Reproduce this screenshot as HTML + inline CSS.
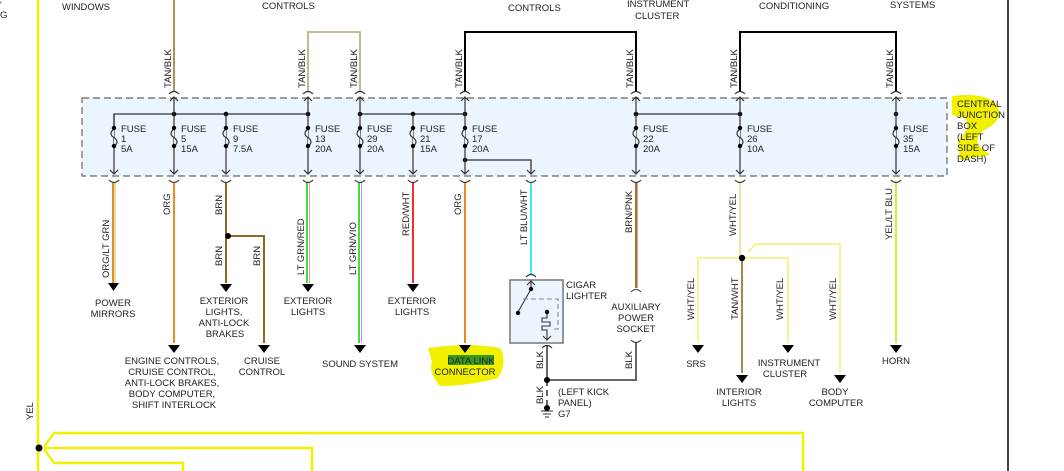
<!DOCTYPE html>
<html><head><meta charset="utf-8"><style>
html,body{margin:0;padding:0;background:#fff;}
svg{display:block;}
text{font-family:"Liberation Sans",Arial,sans-serif;font-size:9.5px;fill:#222;}
</style></head><body>
<svg width="1064" height="471" viewBox="0 0 1064 471" xmlns="http://www.w3.org/2000/svg">
<!-- highlights -->
<path d="M470,120 Q490,116 508,119 L510,145 Q495,150 490,158 L450,162 Q450,148 470,135 Z" fill="#f0f000"/>
<path d="M952,96 Q985,92 996,104 Q1005,118 988,128 Q975,134 978,145 L990,155 L960,160 L958,140 Q972,128 965,118 L952,115 Z" fill="#f0f000"/>
<path d="M428,348 Q470,342 500,348 Q508,362 498,378 Q470,386 440,386 Q428,372 432,362 Z" fill="#f0f000"/>
<rect x="448" y="355" width="46" height="10" fill="#3a9a20"/>

<!-- junction box -->
<rect x="82" y="98" width="865" height="78" fill="#eaf5fd" stroke="#666" stroke-width="1.2" stroke-dasharray="7,4"/>

<!-- yellow left wiring -->
<g stroke="#f5f000" stroke-width="2.5" fill="none">
<line x1="38" y1="0" x2="38" y2="471"/>
<path d="M44,447 L54,433 L803,433 L803,471"/>
<path d="M44,448 L312,448 L312,471"/>
<path d="M44,449 L54,463 L183,463 L183,471"/>
</g>
<circle cx="39" cy="448" r="3.5" fill="#000"/>
<text transform="translate(33,420) rotate(-90)">YEL</text>
<line x1="1008" y1="0" x2="1008" y2="471" stroke="#000" stroke-width="1.5"/>

<!-- top wires -->
<g fill="none" stroke-width="2">
<line x1="174" y1="0" x2="174" y2="92" stroke="#b09060"/>
<path d="M308,92 L308,32 L360,32 L360,92" stroke="#c8b890"/>
<path d="M465,92 L465,32 L636,32 L636,92" stroke="#000"/>
<path d="M740,92 L740,32 L896,32 L896,92" stroke="#000"/>
</g>
<g font-size="9">
<text transform="translate(171,88) rotate(-90)">TAN/BLK</text>
<text transform="translate(305,88) rotate(-90)">TAN/BLK</text>
<text transform="translate(357,88) rotate(-90)">TAN/BLK</text>
<text transform="translate(462,88) rotate(-90)">TAN/BLK</text>
<text transform="translate(633,88) rotate(-90)">TAN/BLK</text>
<text transform="translate(737,88) rotate(-90)">TAN/BLK</text>
<text transform="translate(893,88) rotate(-90)">TAN/BLK</text>
</g>
<text x="62" y="10">WINDOWS</text>
<text x="262" y="9">CONTROLS</text>
<text x="508" y="11">CONTROLS</text>
<text x="627" y="7">INSTRUMENT</text>
<text x="635" y="19">CLUSTER</text>
<text x="759" y="9">CONDITIONING</text>
<text x="890" y="8">SYSTEMS</text>
<text x="0" y="8" font-size="8">'</text>
<text x="0" y="18" font-size="8">G</text>

<!-- bus lines -->
<g stroke="#333" stroke-width="1.3" fill="none">
<path d="M114,128 L114,114 L308,114"/>
<path d="M360,114 L465,114"/>
<path d="M636,114 L740,114"/>
<path d="M465,160 L531,160 L531,174"/>
</g>
<g fill="#000">
<circle cx="174" cy="114" r="2.3"/><circle cx="226" cy="114" r="2.3"/><circle cx="308" cy="114" r="2.3"/>
<circle cx="360" cy="114" r="2.3"/><circle cx="413" cy="114" r="2.3"/><circle cx="465" cy="114" r="2.3"/>
<circle cx="636" cy="114" r="2.3"/><circle cx="740" cy="114" r="2.3"/><circle cx="896" cy="114" r="2.3"/>
<circle cx="465" cy="160" r="2.3"/>
</g>

<!-- fuses -->
<g stroke="#333" stroke-width="1.2" fill="none">
<!-- verticals -->
<path d="M114,114V174 M174,97V174 M226,114V174 M308,97V174 M360,97V174 M413,114V174 M465,97V174 M636,97V174 M740,97V174 M896,97V174"/>
<!-- top chevrons & arcs -->
<path d="M170,101l4,-4l4,4 M169,94q5,-5 10,0 M304,101l4,-4l4,4 M303,94q5,-5 10,0 M356,101l4,-4l4,4 M355,94q5,-5 10,0 M461,101l4,-4l4,4 M460,94q5,-5 10,0 M632,101l4,-4l4,4 M631,94q5,-5 10,0 M736,101l4,-4l4,4 M735,94q5,-5 10,0 M892,101l4,-4l4,4 M891,94q5,-5 10,0"/>
<!-- bottom chevrons & arcs -->
<path d="M110,170l4,4l4,-4 M109,180q5,5 10,0 M170,170l4,4l4,-4 M169,180q5,5 10,0 M222,170l4,4l4,-4 M221,180q5,5 10,0 M304,170l4,4l4,-4 M303,180q5,5 10,0 M356,170l4,4l4,-4 M355,180q5,5 10,0 M409,170l4,4l4,-4 M408,180q5,5 10,0 M461,170l4,4l4,-4 M460,180q5,5 10,0 M527,170l4,4l4,-4 M526,180q5,5 10,0 M632,170l4,4l4,-4 M631,180q5,5 10,0 M736,170l4,4l4,-4 M735,180q5,5 10,0 M892,170l4,4l4,-4 M891,180q5,5 10,0"/>
</g>
<g id="fz" stroke="#333" stroke-width="1.2" fill="#eaf5fd">
<path d="M114,129c-4,3 -4,6 0,8.5c4,3 4,6 0,8.5 M174,129c-4,3 -4,6 0,8.5c4,3 4,6 0,8.5 M226,129c-4,3 -4,6 0,8.5c4,3 4,6 0,8.5 M308,129c-4,3 -4,6 0,8.5c4,3 4,6 0,8.5 M360,129c-4,3 -4,6 0,8.5c4,3 4,6 0,8.5 M413,129c-4,3 -4,6 0,8.5c4,3 4,6 0,8.5 M465,129c-4,3 -4,6 0,8.5c4,3 4,6 0,8.5 M636,129c-4,3 -4,6 0,8.5c4,3 4,6 0,8.5 M740,129c-4,3 -4,6 0,8.5c4,3 4,6 0,8.5 M896,129c-4,3 -4,6 0,8.5c4,3 4,6 0,8.5"/>
</g>
<g fill="#000">
<circle cx="114" cy="128" r="2.2"/><circle cx="114" cy="146" r="2.2"/>
<circle cx="174" cy="128" r="2.2"/><circle cx="174" cy="146" r="2.2"/>
<circle cx="226" cy="128" r="2.2"/><circle cx="226" cy="146" r="2.2"/>
<circle cx="308" cy="128" r="2.2"/><circle cx="308" cy="146" r="2.2"/>
<circle cx="360" cy="128" r="2.2"/><circle cx="360" cy="146" r="2.2"/>
<circle cx="413" cy="128" r="2.2"/><circle cx="413" cy="146" r="2.2"/>
<circle cx="465" cy="128" r="2.2"/><circle cx="465" cy="146" r="2.2"/>
<circle cx="636" cy="128" r="2.2"/><circle cx="636" cy="146" r="2.2"/>
<circle cx="740" cy="128" r="2.2"/><circle cx="740" cy="146" r="2.2"/>
<circle cx="896" cy="128" r="2.2"/><circle cx="896" cy="146" r="2.2"/>
</g>
<g font-size="9.5">
<text x="121" y="132">FUSE</text><text x="121" y="142">1</text><text x="121" y="152">5A</text>
<text x="181" y="132">FUSE</text><text x="181" y="142">5</text><text x="181" y="152">15A</text>
<text x="233" y="132">FUSE</text><text x="233" y="142">9</text><text x="233" y="152">7.5A</text>
<text x="315" y="132">FUSE</text><text x="315" y="142">13</text><text x="315" y="152">20A</text>
<text x="367" y="132">FUSE</text><text x="367" y="142">29</text><text x="367" y="152">20A</text>
<text x="420" y="132">FUSE</text><text x="420" y="142">21</text><text x="420" y="152">15A</text>
<text x="472" y="132">FUSE</text><text x="472" y="142">17</text><text x="472" y="152">20A</text>
<text x="643" y="132">FUSE</text><text x="643" y="142">22</text><text x="643" y="152">20A</text>
<text x="747" y="132">FUSE</text><text x="747" y="142">26</text><text x="747" y="152">10A</text>
<text x="903" y="132">FUSE</text><text x="903" y="142">35</text><text x="903" y="152">15A</text>
<text x="957" y="107">CENTRAL</text><text x="957" y="118">JUNCTION</text><text x="957" y="129">BOX</text>
<text x="957" y="140">(LEFT</text><text x="957" y="151">SIDE OF</text><text x="957" y="162">DASH)</text>
</g>

<!-- lower wires -->
<g fill="none" stroke-width="2">
<line x1="113" y1="183" x2="113" y2="283" stroke="#f08a20"/><line x1="115" y1="183" x2="115" y2="283" stroke="#9ad060" stroke-width="1"/>
<line x1="174" y1="183" x2="174" y2="343" stroke="#f08a20"/>
<line x1="226" y1="183" x2="226" y2="283" stroke="#8a6a20"/>
<path d="M228,236 L264,236 L264,343" stroke="#8a6a20"/>
<line x1="307" y1="183" x2="307" y2="283" stroke="#40e040"/><line x1="309.5" y1="183" x2="309.5" y2="283" stroke="#f0a0a0" stroke-width="1"/>
<line x1="359" y1="183" x2="359" y2="343" stroke="#40e040"/><line x1="361.5" y1="183" x2="361.5" y2="343" stroke="#c090e0" stroke-width="1"/>
<line x1="413" y1="183" x2="413" y2="283" stroke="#f03030"/>
<line x1="465" y1="183" x2="465" y2="343" stroke="#f08a20"/>
<line x1="531" y1="183" x2="531" y2="275" stroke="#40e8f0"/>
<line x1="636" y1="183" x2="636" y2="288" stroke="#a07040"/><line x1="637.5" y1="183" x2="637.5" y2="288" stroke="#f0a080" stroke-width="1"/>
<line x1="740" y1="183" x2="740" y2="258" stroke="#e6e6a0"/>
<path d="M742,258 L698,258 L698,343 M742,258 L788,258 L788,343 M748,252 L756,244 L840,244 L840,373" stroke="#f0f070" stroke-width="1.5"/>
<line x1="742" y1="258" x2="742" y2="373" stroke="#a08850"/>
<line x1="896" y1="183" x2="896" y2="343" stroke="#c8f040"/>
<path d="M547,345 L547,380 L636,380 L636,342" stroke="#666" stroke-width="2"/>
<path d="M547,380 L547,410" stroke="#666" stroke-width="2" stroke-dasharray="6,4"/>
</g>
<circle cx="228" cy="236" r="3" fill="#000"/>
<circle cx="742" cy="258" r="3.2" fill="#000"/>
<circle cx="547" cy="380" r="3" fill="#000"/>
<g fill="#000">
<polygon points="108,283 119,283 113.5,291"/>
<polygon points="168,345 180,345 174,353"/>
<polygon points="220,284 232,284 226,292"/>
<polygon points="258,345 270,345 264,353"/>
<polygon points="302,284 314,284 308,292"/>
<polygon points="354,345 366,345 360,353"/>
<polygon points="407,284 419,284 413,292"/>
<polygon points="459,345 471,345 465,353"/>
<polygon points="692,345 704,345 698,353"/>
<polygon points="736,375 748,375 742,383"/>
<polygon points="782,345 794,345 788,353"/>
<polygon points="834,375 846,375 840,383"/>
<polygon points="890,345 902,345 896,353"/>
</g>
<path d="M631,292q5,-5 10,0 M631,340q5,5 10,0" stroke="#333" fill="none"/>

<!-- cigar lighter -->
<rect x="510" y="280" width="53" height="63" fill="#eaf5fd" stroke="#777" stroke-width="1.5"/>
<g stroke="#333" stroke-width="1.1" fill="none">
<path d="M526,277q5,-5 10,0 M527,285l4,-4l4,4 M531,281V289 M531,289 L518,312"/>
<path d="M523,299 L558,299 L558,329 L552,329" stroke="#888" stroke-dasharray="5,3"/>
<path d="M547,312 V318 h-5 v4 h8 v4 h-8 v4 h5 v10 M543,336l4,4l4,-4 M542,348q5,-5 10,0"/>
</g>
<circle cx="531" cy="289" r="2.2" fill="#000"/><circle cx="518" cy="313" r="2.2" fill="#000"/><circle cx="547" cy="312" r="2.2" fill="#000"/>
<path d="M541,411h12 M543,414h8 M545,417h4" stroke="#333"/>
<circle cx="547" cy="408" r="3" fill="#000"/>

<!-- lower wire labels -->
<g font-size="9">
<text transform="translate(109,278) rotate(-90)">ORG/LT GRN</text>
<text transform="translate(170,215) rotate(-90)">ORG</text>
<text transform="translate(222,215) rotate(-90)">BRN</text>
<text transform="translate(222,266) rotate(-90)">BRN</text>
<text transform="translate(260,266) rotate(-90)">BRN</text>
<text transform="translate(304,275) rotate(-90)">LT GRN/RED</text>
<text transform="translate(356,275) rotate(-90)">LT GRN/VIO</text>
<text transform="translate(409,236) rotate(-90)">RED/WHT</text>
<text transform="translate(461,215) rotate(-90)">ORG</text>
<text transform="translate(527,245) rotate(-90)">LT BLU/WHT</text>
<text transform="translate(632,233) rotate(-90)">BRN/PNK</text>
<text transform="translate(736,236) rotate(-90)">WHT/YEL</text>
<text transform="translate(892,240) rotate(-90)">YEL/LT BLU</text>
<text transform="translate(694,320) rotate(-90)">WHT/YEL</text>
<text transform="translate(738,320) rotate(-90)">TAN/WHT</text>
<text transform="translate(783,320) rotate(-90)">WHT/YEL</text>
<text transform="translate(836,320) rotate(-90)">WHT/YEL</text>
<text transform="translate(543,369) rotate(-90)">BLK</text>
<text transform="translate(543,404) rotate(-90)">BLK</text>
<text transform="translate(632,369) rotate(-90)">BLK</text>
</g>

<!-- destination labels -->
<g font-size="9.5" text-anchor="middle">
<text x="113" y="306">POWER</text><text x="113" y="317">MIRRORS</text>
<text x="172" y="364">ENGINE CONTROLS,</text><text x="172" y="375">CRUISE CONTROL,</text><text x="172" y="386">ANTI-LOCK BRAKES,</text><text x="172" y="397">BODY COMPUTER,</text><text x="174" y="408">SHIFT INTERLOCK</text>
<text x="224" y="304">EXTERIOR</text><text x="224" y="315">LIGHTS,</text><text x="224" y="326">ANTI-LOCK</text><text x="225" y="337">BRAKES</text>
<text x="262" y="364">CRUISE</text><text x="262" y="375">CONTROL</text>
<text x="308" y="304">EXTERIOR</text><text x="308" y="315">LIGHTS</text>
<text x="360" y="367">SOUND SYSTEM</text>
<text x="412" y="304">EXTERIOR</text><text x="412" y="315">LIGHTS</text>
<text x="471" y="364">DATA LINK</text><text x="465" y="375">CONNECTOR</text>
<text x="636" y="310">AUXILIARY</text><text x="636" y="321">POWER</text><text x="636" y="332">SOCKET</text>
<text x="696" y="367">SRS</text>
<text x="789" y="366">INSTRUMENT</text><text x="785" y="377">CLUSTER</text>
<text x="739" y="395">INTERIOR</text><text x="739" y="406">LIGHTS</text>
<text x="835" y="395">BODY</text><text x="836" y="406">COMPUTER</text>
<text x="896" y="364">HORN</text>
</g>
<g font-size="9.5">
<text x="566" y="288">CIGAR</text><text x="566" y="299">LIGHTER</text>
<text x="558" y="395">(LEFT KICK</text><text x="558" y="406">PANEL)</text><text x="558" y="417">G7</text>
</g>
</svg>
</body></html>
